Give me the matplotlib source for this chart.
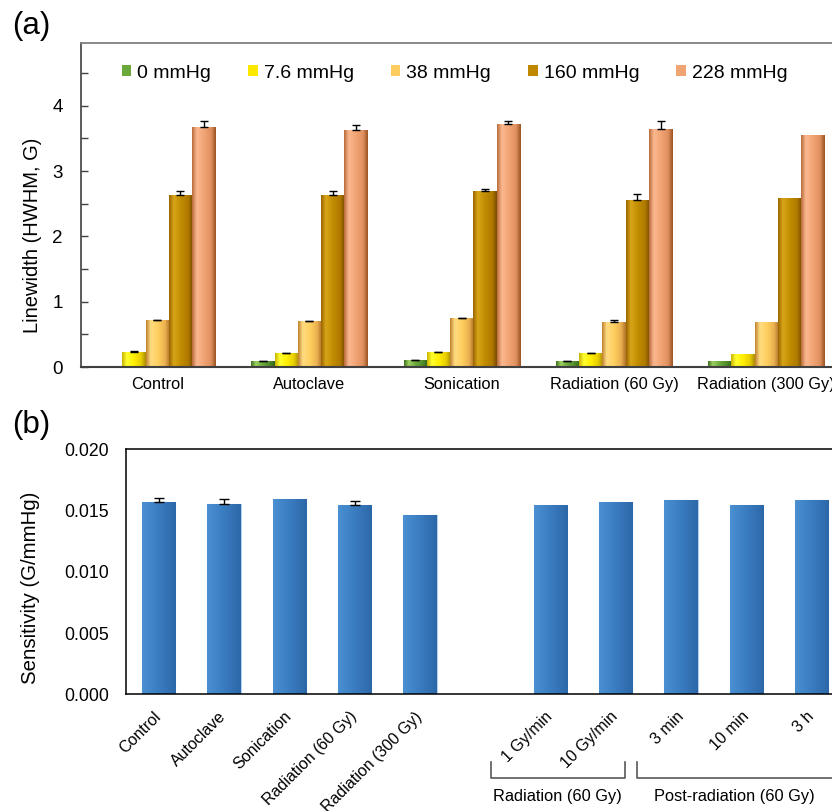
import numpy as np
import matplotlib
matplotlib.use('Agg')
import matplotlib.pyplot as plt
from matplotlib.colors import LinearSegmentedColormap
from matplotlib.patches import Patch
import matplotlib.transforms as mtransforms

plt.rcParams['font.family'] = ['Liberation Sans', 'DejaVu Sans']

nan = np.nan

# ---------------- Panel (a) data ----------------
treatments_a = ['Control', 'Autoclave', 'Sonication', 'Radiation (60 Gy)', 'Radiation (300 Gy)']
pressures = ['0 mmHg', '7.6 mmHg', '38 mmHg', '160 mmHg', '228 mmHg']
lw_0 = [nan, 0.09, 0.10, 0.09, 0.087]
lw_7_6 = [0.23, 0.21, 0.225, 0.21, 0.205]
lw_38 = [0.715, 0.70, 0.745, 0.695, 0.695]
lw_160 = [2.63, 2.63, 2.69, 2.56, 2.58]
lw_228 = [3.67, 3.63, 3.72, 3.65, 3.55]
err_0 = [nan, 0.005, 0.005, 0.005, nan]
err_7_6 = [0.01, 0.01, 0.01, 0.01, nan]
err_38 = [0.01, 0.01, 0.01, 0.03, nan]
err_160 = [0.06, 0.06, 0.04, 0.09, nan]
err_228 = [0.09, 0.07, 0.05, 0.12, nan]

# ---------------- Panel (b) data ----------------
categories_b = ['Control', 'Autoclave', 'Sonication', 'Radiation (60 Gy)', 'Radiation (300 Gy)',
                '1 Gy/min', '10 Gy/min', '3 min', '10 min', '3 h']
sensitivity = [0.01566, 0.01555, 0.01595, 0.01544, 0.01465,
               0.01544, 0.01566, 0.01585, 0.01544, 0.01585]
sens_err = [0.0004, 0.00037, nan, 0.0003, nan, nan, nan, nan, nan, nan]
group_labels_b = ['Radiation (60 Gy)', 'Post-radiation (60 Gy)']

# ---------------- styling ----------------
series_vals = [lw_0, lw_7_6, lw_38, lw_160, lw_228]
series_errs = [err_0, err_7_6, err_38, err_160, err_228]
base_colors = ['#6aa83a', '#ffe800', '#ffcc60', '#c08800', '#f0a472']
grad_stops = [
    ['#3d6e1e', '#9bd060', '#6aa83a', '#4f8a28', '#35601a'],
    ['#c8b000', '#ffff30', '#ffee00', '#e8cc00', '#a88c00'],
    ['#c08030', '#ffdc80', '#ffd060', '#eab050', '#b07028'],
    ['#9a6400', '#d8a418', '#c08c00', '#b07a00', '#7a4a00'],
    ['#b86a38', '#fab890', '#f2a474', '#e09060', '#9a5220'],
]
cmaps = [LinearSegmentedColormap.from_list(f'c{i}', list(zip([0, 0.2, 0.5, 0.8, 1.0], s)))
         for i, s in enumerate(grad_stops)]
blue_cmap = LinearSegmentedColormap.from_list('blue', ['#4a90d2', '#3a7cc0', '#2c68a8'])

W, H = 832, 811
fig = plt.figure(figsize=(W / 100, H / 100), dpi=100)


def shade(ax, patch, cmap, z):
    x0 = patch.get_x(); w = patch.get_width(); y0 = patch.get_y(); h = patch.get_height()
    if not np.isfinite(h) or h == 0:
        return
    grad = np.linspace(0, 1, 256).reshape(1, -1)
    im = ax.imshow(grad, cmap=cmap, extent=[x0, x0 + w, y0, y0 + h], aspect='auto',
                   interpolation='bilinear', origin='lower', zorder=z)
    im.set_clip_path(patch)


# ================= Panel (a) =================
axa = fig.add_axes([81 / W, 1 - 367 / H, 761.4 / W, 324 / H])
xa = np.arange(len(treatments_a))
bw = 0.1528
for i, (vals, errs) in enumerate(zip(series_vals, series_errs)):
    pos = xa + (i - 2) * bw
    bars = axa.bar(pos, vals, width=bw, color=base_colors[i], linewidth=0, zorder=2)
    for p in bars.patches:
        shade(axa, p, cmaps[i], 2.1)
    errs = np.array(errs, dtype=float)
    sel = ~np.isnan(errs)
    axa.errorbar(pos[sel], np.array(vals)[sel], yerr=[np.zeros(sel.sum()), errs[sel]],
                 fmt='none', ecolor='black', elinewidth=1.0, capsize=3, capthick=1.0, zorder=3)

axa.set_xlim(-0.5, len(treatments_a) - 0.5)
axa.set_ylim(0, 4.96)
axa.set_yticks([0, 1, 2, 3, 4])
axa.set_yticks(np.arange(0.5, 5.0, 1.0), minor=True)
axa.tick_params(axis='y', which='both', direction='in', length=5, width=1, color='#404040',
                labelsize=13.5, pad=13)
axa.set_xticks(xa, treatments_a)
axa.tick_params(axis='x', length=0, labelsize=11.8, pad=7)
axa.spines['top'].set_color('#808080'); axa.spines['top'].set_linewidth(1.3)
axa.spines['left'].set_color('#404040'); axa.spines['left'].set_linewidth(1.2)
axa.spines['bottom'].set_color('#404040'); axa.spines['bottom'].set_linewidth(1.5)
axa.spines['right'].set_visible(False)

handles = [Patch(facecolor=c, edgecolor='none') for c in base_colors]
axa.legend(handles, pressures, ncol=5, loc='center left',
           bbox_to_anchor=(121.7 / W, 1 - 73 / H), bbox_transform=fig.transFigure,
           frameon=False, fontsize=14, handlelength=0.5, handleheight=0.55,
           handletextpad=0.3, columnspacing=1.9, borderpad=0, borderaxespad=0)

fig.text(32.5 / W, 1 - 235 / H, 'Linewidth (HWHM, G)', rotation=90, ha='center', va='center',
         fontsize=14.5)
fig.text(31 / W, 1 - 26 / H, '(a)', ha='center', va='center', fontsize=22.5)

# ================= Panel (b) =================
axb = fig.add_axes([126 / W, 1 - 694.3 / H, 718.3 / W, 245 / H])
xb = np.r_[np.arange(5), np.arange(6, 11)]
bars_b = axb.bar(xb, sensitivity, width=0.51, color='#3a7cc0', edgecolor='#b4d0ec',
                 linewidth=0.8, zorder=2)
for p in bars_b.patches:
    shade(axb, p, blue_cmap, 2.1)
se = np.array(sens_err, dtype=float)
sel = ~np.isnan(se)
axb.errorbar(xb[sel], np.array(sensitivity)[sel], yerr=[np.zeros(sel.sum()), se[sel]],
             fmt='none', ecolor='black', elinewidth=1.0, capsize=3.5, capthick=1.0, zorder=3)
axb.set_xlim(-0.5, 10.5)
axb.set_ylim(0, 0.020)
axb.set_yticks([0, 0.005, 0.010, 0.015, 0.020], ['0.000', '0.005', '0.010', '0.015', '0.020'])
axb.tick_params(axis='y', length=0, labelsize=12.7, pad=12)
axb.set_xticks(xb)
axb.set_xticklabels(categories_b, rotation=45, ha='right', va='center', rotation_mode='anchor')
axb.tick_params(axis='x', length=0, labelsize=11.5, pad=14.4)
for s in ['top', 'left', 'bottom']:
    axb.spines[s].set_color('black'); axb.spines[s].set_linewidth(1.1)
axb.spines['right'].set_visible(False)

fig.text(30.3 / W, 1 - 588.3 / H, 'Sensitivity (G/mmHg)', rotation=90, ha='center', va='center',
         fontsize=14.7)
fig.text(31 / W, 1 - 425 / H, '(b)', ha='center', va='center', fontsize=22.5)

# group brackets under panel (b)
trans = mtransforms.blended_transform_factory(axb.transData, axb.transAxes)
y_top, y_bot, y_txt = -0.275, -0.343, -0.418
spans = [(5.09, 7.14), (7.32, 10.35)]
text_x = [6.11, 8.82]
for (x0, x1), lab, tx in zip(spans, group_labels_b, text_x):
    axb.plot([x0, x0, x1, x1], [y_top, y_bot, y_bot, y_top], color='#595959', lw=1.2,
             transform=trans, clip_on=False)
    axb.text(tx, y_txt, lab, transform=trans, ha='center', va='center', fontsize=11.8)

fig.savefig('out.png', dpi=100)
